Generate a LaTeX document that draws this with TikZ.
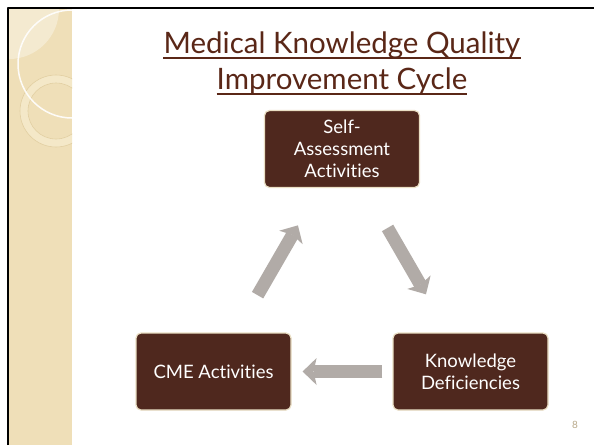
\documentclass[tikz,border=0pt]{standalone}
\usepackage{fontspec}
\setmainfont{Lato}[Ligatures={NoCommon}]
\usetikzlibrary{arrows.meta}
\definecolor{boxbrown}{HTML}{4F281E}
\definecolor{boxedge}{HTML}{EADFC4}
\definecolor{titlebrown}{HTML}{5A2717}
\definecolor{arrowgray}{HTML}{B1ABA7}
\definecolor{stripbeige}{HTML}{EFDFB8}
\definecolor{ringbeige}{HTML}{F4E8C8}
\definecolor{ringedge}{HTML}{E2CFA2}
\definecolor{pagegray}{HTML}{B8A98A}
\begin{document}
\begin{tikzpicture}[x=1pt,y=-1pt,line join=round,
		stepbox/.style={draw=boxedge,line width=1.2pt,fill=boxbrown,rounded corners=5pt,
			text=white,align=center,minimum width=155pt,minimum height=77pt,inner sep=0pt,
			font=\fontsize{18.5}{22}\selectfont},
		cyc/.style={draw=arrowgray,line width=13pt,
			-{Stealth[length=14pt,width=27pt,inset=3pt,line width'=0pt]}},
		ttl/.style={anchor=base,inner sep=0pt,text=titlebrown,font=\fontsize{29.5}{34}\selectfont},
		ulin/.style={draw=titlebrown,line width=1.8pt}]
	\useasboundingbox (0,0) rectangle (594,445);
	\fill[white] (0,0) rectangle (594,445);
	% side strip
	\fill[stripbeige] (8,8) rectangle (72,445);
	\begin{scope}
		\clip (8,8) rectangle (72,445);
		\fill[white,opacity=0.35] (9,9) circle (50);
		\fill[ringbeige,even odd rule] (56,111) circle (36) (56,111) circle (28);
		\draw[ringedge,line width=0.6pt] (56,111) circle (36) (56,111) circle (28);
		\draw[white,line width=1.5pt,opacity=0.9] (72,64) circle (54);
	\end{scope}
	\draw[black,line width=2.5pt] (8,445) -- (8,8) -- (594,8);
	% title
	\node[ttl] (t1) at (342,53) {Medical Knowledge Quality};
	\node[ttl] (t2) at (342,89) {Improvement Cycle};
	\draw[ulin] ([yshift=-5pt]t1.base west) -- ([yshift=-5pt]t1.base east);
	\draw[ulin] ([yshift=-5pt]t2.base west) -- ([yshift=-5pt]t2.base east);
	% cycle
	\node[stepbox] (self) at (342,149) {Self-\\Assessment\\Activities};
	\node[stepbox] (kd) at (470.5,371.5) {Knowledge\\Deficiencies};
	\node[stepbox] (cme) at (213.5,371.5) {CME Activities};
	\draw[cyc,shorten <=46pt,shorten >=44pt] (self) -- (kd);
	\draw[cyc,shorten <=10pt,shorten >=11pt] (kd) -- (cme);
	\draw[cyc,shorten <=43pt,shorten >=43pt] (cme) -- (self);
	\node[text=pagegray,font=\fontsize{10}{11}\selectfont] (pg) at (575,425) {8};
\end{tikzpicture}
\end{document}
